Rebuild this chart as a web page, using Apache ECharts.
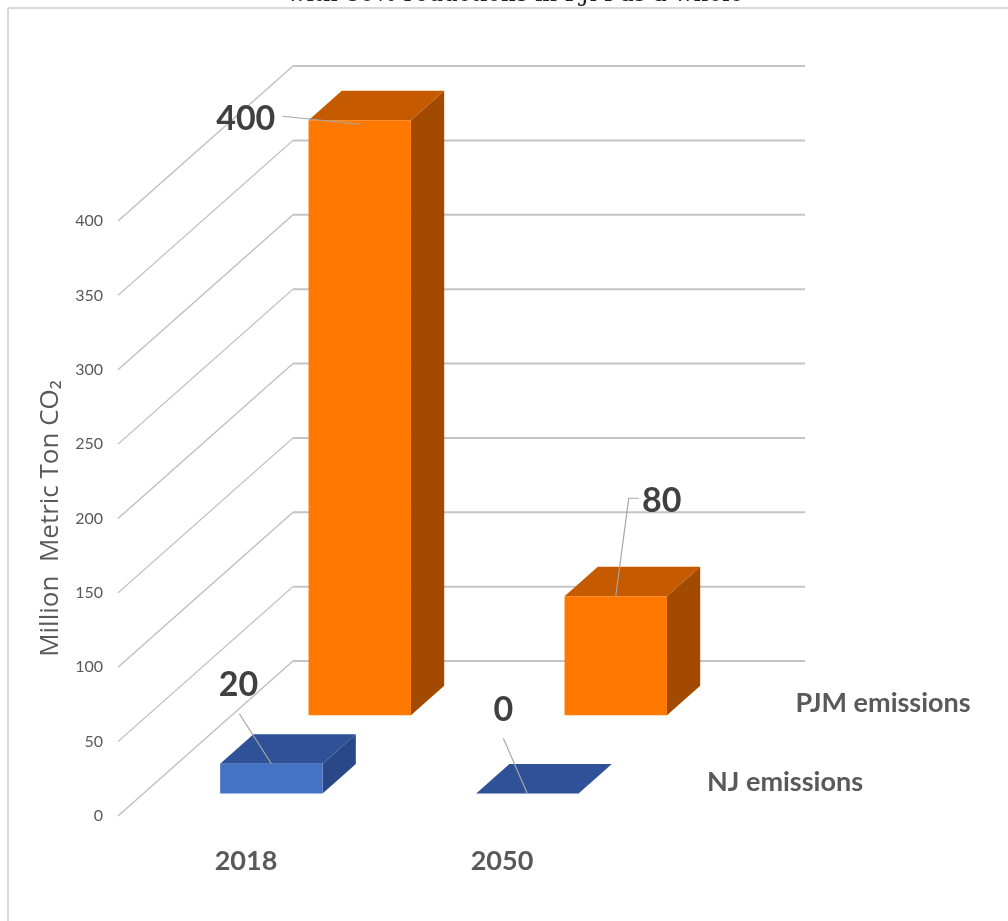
<!DOCTYPE html>
<html>
<head>
<meta charset="utf-8">
<script src="https://cdn.jsdelivr.net/npm/echarts@6/dist/echarts.min.js"></script>
<style>
    html, body { margin: 0; padding: 0; background: #fff; }
    #main { width: 1008px; height: 921px; }
</style>
</head>
<body>
<div id="main"></div>
<script>
    var categories = ['2018', '2050'];
    var seriesNames = ['NJ emissions', 'PJM emissions'];
    var njValues = [20, 0];
    var pjmValues = [400, 80];
    var yTicks = [0, 50, 100, 150, 200, 250, 300, 350, 400];

    // fake 3d: whole floor depth as a pixel vector
    var depthVec = [175, -155];
    var rowFront = [0.145, 0.65];
    var barDepth = 0.19;
    var barRatio = 0.4;
    var faceColors = [
        { front: '#4472C4', top: '#2F5197', side: '#2A4888' },
        { front: '#FF7800', top: '#C55A00', side: '#A14A00' }
    ];
    // data label placement (offset from bar front-top centre), leader points relative to label
    var labelPos = [
        [ { off: [-33, -79], lead: [[1, 29]], end: 0 },
          { off: [-24, -83], lead: [[0, 28]], end: 0 } ],
        [ { off: [-114, -1], lead: [[37, -3]], end: 4 },
          { off: [46, -95], lead: [[-23, -3], [-33, -3]], end: 0 } ]
    ];

    var chart = echarts.init(document.getElementById('main'));

    function barItem(row) {
        return function (params, api) {
            var cat = api.value(0), val = api.value(1);
            var base = api.coord([cat, 0]);
            var top = api.coord([cat, val]);
            var hw = api.size([1, 0])[0] * barRatio / 2;
            var f = rowFront[row], b = rowFront[row] + barDepth;
            var ox0 = depthVec[0] * f, oy0 = depthVec[1] * f;
            var ox1 = depthVec[0] * b, oy1 = depthVec[1] * b;
            var xl = base[0] - hw, xr = base[0] + hw, yt = top[1], yb = base[1];
            var c = faceColors[row];
            var lp = labelPos[row][params.dataIndex];
            var ax = base[0] + ox0, ay = yt + oy0;
            var lx = ax + lp.off[0], ly = ay + lp.off[1];
            var pts = lp.lead.map(function (p) { return [lx + p[0], ly + p[1]]; });
            pts.push([ax, ay + lp.end]);
            return {
                type: 'group',
                children: [
                    { type: 'polygon', shape: { points: [[xr + ox0, yt + oy0], [xr + ox1, yt + oy1], [xr + ox1, yb + oy1], [xr + ox0, yb + oy0]] }, style: { fill: c.side } },
                    { type: 'polygon', shape: { points: [[xl + ox0, yt + oy0], [xr + ox0, yt + oy0], [xr + ox1, yt + oy1], [xl + ox1, yt + oy1]] }, style: { fill: c.top } },
                    { type: 'rect', shape: { x: xl + ox0, y: yt + oy0, width: 2 * hw, height: yb - yt }, style: { fill: c.front } },
                    { type: 'polyline', shape: { points: pts }, style: { stroke: '#a6a6a6', lineWidth: 1.2, fill: null } },
                    { type: 'text', x: lx, y: ly, style: { text: String(val), font: 'bold 34px Lato', fill: '#404040', align: 'center', verticalAlign: 'middle' } }
                ]
            };
        };
    }

    var option = {
        animation: false,
        backgroundColor: '#fff',
        grid: { left: 118, right: 378, top: 221, bottom: 105 },
        xAxis: {
            type: 'category',
            data: categories,
            axisLine: { show: false },
            axisTick: { show: false },
            axisLabel: { margin: 32, fontSize: 27, fontWeight: 'bold', fontFamily: 'Lato', color: '#595959' }
        },
        yAxis: {
            type: 'value',
            min: 0, max: 400, interval: 50,
            name: 'Million  Metric Ton CO\u2082',
            nameLocation: 'middle',
            nameGap: 54,
            nameTextStyle: { fontSize: 26, fontFamily: 'Open Sans', color: '#595959' },
            axisLine: { show: false },
            axisTick: { show: false },
            splitLine: { show: false },
            axisLabel: { margin: 15, fontSize: 16, fontFamily: 'Lato', color: '#595959' }
        },
        graphic: [
            { type: 'text', x: 515, y: 7, style: { text: 'with 80% reductions in PJM as a whole', font: '23px "DejaVu Serif"', fill: '#222', align: 'center', verticalAlign: 'bottom' } },
            { type: 'line', shape: { x1: 8, y1: 8, x2: 1008, y2: 8 }, style: { stroke: '#d9d9d9', lineWidth: 2 } },
            { type: 'line', shape: { x1: 8, y1: 8, x2: 8, y2: 921 }, style: { stroke: '#d9d9d9', lineWidth: 2 } }
        ],
        series: [
            {
                type: 'custom',
                name: 'walls',
                z: 1,
                clip: false,
                silent: true,
                data: yTicks.map(function (v) { return [0, v]; }),
                renderItem: function (params, api) {
                    var cs = params.coordSys;
                    var y = api.coord([0, api.value(1)])[1];
                    var bx = cs.x + depthVec[0], by = y + depthVec[1];
                    return {
                        type: 'group',
                        children: [
                            { type: 'line', shape: { x1: cs.x, y1: y, x2: bx, y2: by }, style: { stroke: '#bdbdbd', lineWidth: 1.3 } },
                            { type: 'line', shape: { x1: bx, y1: by, x2: cs.x + cs.width + depthVec[0], y2: by }, style: { stroke: '#c4c4c4', lineWidth: 2 } }
                        ]
                    };
                }
            },
            {
                type: 'custom',
                name: 'depthAxis',
                z: 1,
                clip: false,
                silent: true,
                data: seriesNames.map(function (n, i) { return [0, 0]; }),
                renderItem: function (params, api) {
                    var cs = params.coordSys;
                    var i = params.dataIndex;
                    var d = rowFront[i] + barDepth / 2;
                    var y0 = api.coord([0, 0])[1];
                    return {
                        type: 'text',
                        x: cs.x + cs.width + depthVec[0] * d + 35,
                        y: y0 + depthVec[1] * d + 3,
                        style: { text: seriesNames[i], font: 'bold 27px Lato', fill: '#595959', align: 'left', verticalAlign: 'middle' }
                    };
                }
            },
            {
                type: 'custom',
                name: seriesNames[1],
                z: 2,
                clip: false,
                data: pjmValues.map(function (v, i) { return [i, v]; }),
                renderItem: barItem(1)
            },
            {
                type: 'custom',
                name: seriesNames[0],
                z: 3,
                clip: false,
                data: njValues.map(function (v, i) { return [i, v]; }),
                renderItem: barItem(0)
            }
        ]
    };
    option && chart.setOption(option);
</script>
</body>
</html>
